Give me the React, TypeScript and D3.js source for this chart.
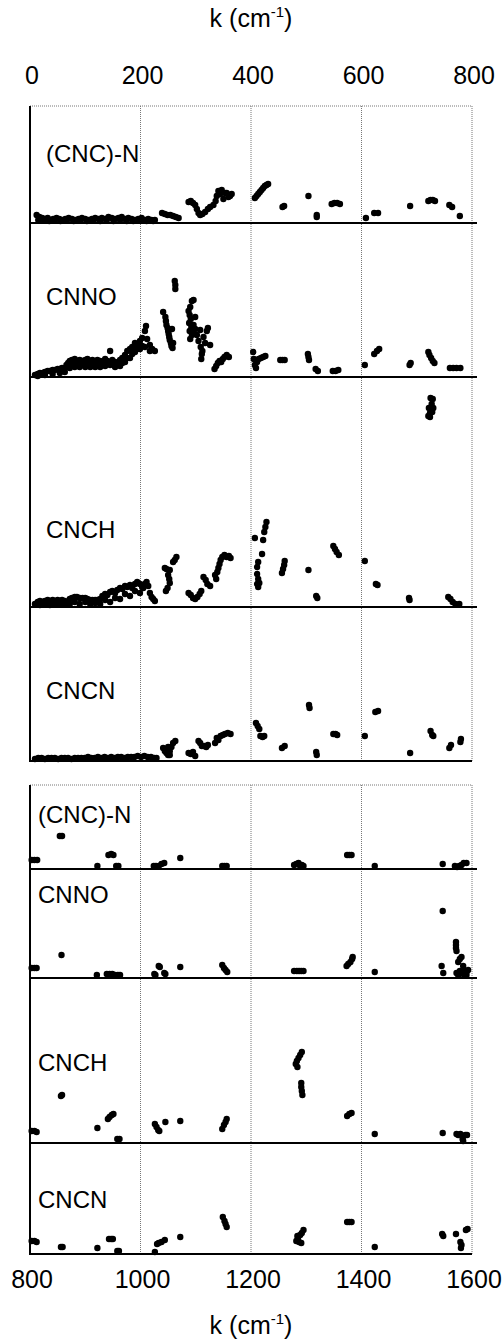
import React, { useEffect, useRef } from 'react';
import * as d3 from 'd3';

const panelNames = ['(CNC)-N', 'CNNO', 'CNCH', 'CNCN'];
const lowTicks = [0, 200, 400, 600, 800];
const highTicks = [800, 1000, 1200, 1400, 1600];

// [k (cm-1), amplitude (a.u.)], 0 - 800 cm-1
const lowCncN = [
  [12, 0.8], [17, 0.6], [22, 0.5], [27, 0.4], [32, 0.5], [37, 0.3], [42, 0.4], [48, 0.5], [53, 0.4], [58, 0.3],
  [64, 0.4], [70, 0.5], [76, 0.4], [82, 0.3], [88, 0.4], [94, 0.5], [100, 0.4], [106, 0.3], [112, 0.4], [118, 0.5],
  [124, 0.4], [130, 0.5], [136, 0.4], [142, 0.6], [148, 0.5], [154, 0.4], [160, 0.5], [166, 0.6], [172, 0.4], [178, 0.5],
  [184, 0.4], [190, 0.3], [196, 0.4], [202, 0.5], [208, 0.3], [214, 0.4], [220, 0.3], [226, 0.3],
  [15, 0.3], [25, 0.3], [35, 0.2], [45, 0.3], [55, 0.2], [67, 0.3], [79, 0.2], [91, 0.3], [103, 0.2], [115, 0.3],
  [127, 0.2], [139, 0.3], [151, 0.2], [163, 0.3], [175, 0.2], [187, 0.2], [199, 0.3], [211, 0.2], [223, 0.2],
  [239, 1.0], [244, 0.9], [249, 0.8], [254, 0.8], [259, 0.7], [264, 0.6], [269, 0.5],
  [287, 2.1], [291, 2.2], [295, 2.0], [299, 1.8], [302, 1.4], [305, 1.0], [308, 0.8], [312, 0.9], [317, 1.1], [322, 1.4], [326, 1.6],
  [332, 1.8], [336, 2.2], [338, 2.7], [341, 3.2], [344, 2.9], [347, 3.3], [350, 2.4], [353, 3.0], [356, 3.0], [359, 2.6], [362, 2.7], [365, 2.9],
  [407, 2.5], [410, 2.7], [413, 2.9], [416, 3.1], [419, 3.3], [422, 3.5], [425, 3.7], [428, 3.8], [431, 3.9],
  [457, 1.6], [460, 1.7], [504, 2.7], [519, 0.6], [519, 0.8],
  [546, 1.9], [551, 2.0], [556, 2.0], [561, 1.9], [608, 0.5], [623, 1.0], [630, 1.0], [688, 1.7],
  [721, 2.2], [725, 2.3], [729, 2.3], [733, 2.2], [759, 1.8], [764, 1.6], [778, 0.7],
];

const lowCnno = [
  [9, 0.2], [14, 0.3], [18, 0.4], [23, 0.4], [27, 0.5], [32, 0.6], [36, 0.6], [41, 0.7], [45, 0.7], [50, 0.8],
  [54, 0.8], [58, 0.9], [63, 0.9], [66, 1.2], [69, 1.4], [72, 1.6], [76, 1.7], [81, 1.8], [85, 1.6], [90, 1.7],
  [95, 1.6], [100, 1.7], [104, 1.8], [109, 1.6], [113, 1.7], [118, 1.5], [122, 1.7], [127, 1.6], [131, 1.5], [136, 1.8],
  [140, 1.6], [145, 2.6], [149, 1.7], [154, 1.5], [158, 1.2], [163, 1.7], [167, 1.9], [172, 2.2], [176, 2.6], [181, 2.8],
  [185, 3.0], [190, 3.4], [194, 3.2], [199, 3.6], [203, 3.9], [208, 4.6], [210, 5.1], [212, 3.8], [217, 3.2], [221, 2.8], [226, 2.6],
  [14, 0.1], [27, 0.2], [41, 0.3], [54, 0.4], [63, 0.5],
  [72, 0.9], [81, 1.0], [90, 1.0], [100, 1.0], [109, 1.0], [118, 1.0], [127, 1.0], [136, 1.1], [145, 1.2], [154, 1.0],
  [163, 1.1], [172, 1.5], [181, 1.9], [190, 2.5], [199, 2.8], [208, 3.0], [217, 2.6],
  [76, 1.3], [86, 1.3], [95, 1.3], [104, 1.3], [113, 1.3], [122, 1.3], [131, 1.2], [140, 1.3], [149, 1.4], [158, 1.4],
  [167, 1.4], [176, 1.9], [185, 2.3], [194, 2.8], [203, 3.1],
  [241, 6.5], [245, 6.0], [246, 5.6], [247, 5.2], [249, 4.9], [250, 4.6], [251, 4.3], [252, 4.0], [253, 3.7], [255, 3.4],
  [256, 3.1], [258, 2.9], [259, 3.4], [257, 4.8], [262, 9.6], [263, 9.2], [263, 8.8],
  [293, 7.6], [296, 7.7], [290, 7.0], [287, 6.6], [289, 6.2], [291, 5.8], [288, 5.4], [292, 5.0], [289, 4.6], [293, 4.2],
  [290, 3.8], [295, 4.4], [296, 5.2], [299, 6.0], [299, 4.8], [302, 4.2], [305, 3.6], [308, 4.7], [309, 3.0], [311, 2.3],
  [310, 1.8], [312, 2.6], [314, 4.0], [317, 3.4], [320, 4.6], [322, 4.9], [326, 3.2],
  [334, 0.8], [337, 1.1], [340, 1.4], [343, 1.6], [346, 1.5], [349, 1.8], [352, 2.0], [356, 2.2], [360, 2.0],
  [404, 2.5], [405, 1.8], [407, 1.2], [409, 0.9], [411, 1.5], [414, 1.8], [418, 1.9], [422, 2.0], [426, 2.1],
  [453, 1.7], [457, 1.7], [461, 1.7], [503, 2.3], [504, 2.0], [505, 1.7], [517, 0.8], [521, 0.6],
  [548, 0.6], [553, 0.6], [558, 0.7], [606, 1.2], [623, 2.3], [628, 2.6], [632, 2.8], [687, 1.2], [689, 1.4],
  [721, 2.5], [723, 2.2], [726, 1.9], [729, 1.6], [732, 1.4], [760, 0.9], [766, 0.9], [772, 0.9], [779, 0.9],
];

const lowCnch = [
  [9, 0.3], [14, 0.5], [18, 0.6], [23, 0.5], [27, 0.6], [32, 0.7], [36, 0.6], [41, 0.7], [45, 0.6], [50, 0.7],
  [54, 0.6], [58, 0.7], [63, 0.6], [68, 0.5], [72, 0.8], [76, 0.9], [81, 1.0], [85, 1.0], [90, 0.9], [95, 0.9],
  [100, 0.9], [104, 0.8], [109, 0.7], [113, 0.7], [118, 0.7], [122, 0.7], [127, 0.8], [131, 1.1], [136, 1.3], [140, 1.2],
  [145, 1.5], [149, 1.6], [154, 1.4], [158, 1.7], [163, 1.9], [167, 1.8], [172, 2.1], [176, 2.0], [181, 2.2], [185, 1.9],
  [190, 2.3], [194, 2.5], [199, 2.3], [203, 2.0],
  [18, 0.2], [36, 0.2], [54, 0.3], [72, 0.3], [90, 0.3], [109, 0.3], [127, 0.3], [145, 0.5], [163, 0.8], [181, 1.1], [199, 1.4],
  [27, 0.3], [45, 0.3], [63, 0.3], [81, 0.5], [100, 0.5], [118, 0.4], [136, 0.7], [154, 0.9], [172, 1.3], [190, 1.6],
  [205, 1.9], [208, 2.3], [211, 2.5], [214, 2.1], [217, 1.4], [220, 1.0], [223, 0.8], [226, 0.6],
  [265, 5.0], [262, 4.7], [259, 4.5], [244, 3.9], [247, 3.8], [253, 3.7], [250, 3.2], [252, 2.8], [253, 2.4], [249, 1.9], [246, 1.6],
  [287, 1.4], [291, 1.2], [295, 0.9], [299, 0.8], [303, 1.0], [307, 1.3], [310, 1.6],
  [314, 3.0], [318, 2.7], [321, 2.3], [326, 2.1],
  [335, 3.2], [337, 2.8], [339, 3.5], [341, 3.9], [343, 4.3], [345, 4.7], [348, 5.0], [352, 5.2], [356, 5.0], [360, 5.1], [363, 4.9],
  [428, 8.5], [426, 8.0], [424, 7.5], [407, 6.9], [422, 6.7], [420, 5.3], [413, 4.5], [411, 4.0], [411, 3.3], [413, 2.8],
  [411, 2.3], [413, 2.0], [415, 2.4],
  [461, 4.6], [460, 4.2], [458, 3.8], [456, 3.4], [504, 3.7], [518, 1.1], [520, 0.9],
  [549, 6.1], [552, 5.8], [555, 5.5], [559, 5.2], [606, 4.6], [626, 2.3], [629, 2.2], [686, 0.9], [687, 0.7],
  [725, 20.9], [729, 20.8], [727, 20.3], [722, 19.9], [730, 19.9], [724, 19.4], [728, 19.5], [721, 19.1], [724, 19.0],
  [757, 1.0], [761, 0.8], [765, 0.5], [770, 0.3], [777, 0.3],
];

const lowCncn = [
  [9, 0.2], [15, 0.3], [21, 0.3], [27, 0.2], [33, 0.3], [39, 0.3], [45, 0.3], [51, 0.2], [57, 0.3], [63, 0.3],
  [69, 0.3], [75, 0.2], [81, 0.3], [87, 0.3], [93, 0.3], [99, 0.3], [105, 0.4], [111, 0.3], [117, 0.3], [123, 0.4],
  [129, 0.3], [135, 0.4], [141, 0.3], [147, 0.4], [153, 0.3], [159, 0.4], [165, 0.4], [171, 0.3], [177, 0.4], [183, 0.4],
  [189, 0.4], [195, 0.5], [201, 0.4], [207, 0.5], [213, 0.4], [219, 0.4], [225, 0.3], [229, 0.3],
  [241, 1.3], [244, 1.0], [247, 0.8], [250, 0.6], [253, 1.0], [256, 1.4], [259, 1.8], [263, 2.0], [250, 1.4], [253, 0.6],
  [287, 0.8], [291, 0.7], [295, 0.9], [299, 0.5],
  [305, 2.0], [308, 1.8], [311, 1.5], [315, 1.5], [319, 1.4], [322, 1.6],
  [335, 1.8], [338, 2.3], [341, 2.1], [345, 2.5], [349, 2.6], [353, 2.7], [358, 2.8], [363, 2.7],
  [409, 3.8], [412, 3.5], [415, 3.2], [417, 2.5], [421, 2.4], [424, 2.5],
  [456, 1.3], [461, 1.5], [505, 5.6], [506, 5.3], [518, 0.9], [519, 0.6],
  [549, 2.7], [553, 2.7], [556, 2.6], [606, 2.5], [625, 4.9], [630, 5.0], [688, 0.8],
  [725, 3.0], [728, 2.6], [730, 2.5], [759, 1.3], [762, 1.6], [779, 1.9], [780, 2.2],
];

// 800 - 1600 cm-1
const highCncN = [
  [803, 0.9], [808, 0.9], [813, 0.9], [854, 3.3], [858, 3.3], [922, 0.3], [942, 1.4], [947, 1.5], [951, 1.4],
  [956, 0.3], [960, 0.3], [1024, 0.3], [1028, 0.3], [1033, 0.3], [1038, 0.5], [1043, 0.6], [1072, 1.1],
  [1148, 0.3], [1152, 0.3], [1156, 0.3], [1278, 0.4], [1282, 0.5], [1286, 0.6], [1289, 0.3], [1292, 0.4], [1295, 0.3],
  [1374, 1.4], [1378, 1.4], [1382, 1.4], [1424, 0.3], [1547, 0.5],
  [1569, 0.3], [1573, 0.2], [1577, 0.3], [1581, 0.4], [1585, 0.6], [1590, 0.6],
];

const highCnno = [
  [803, 1.0], [808, 1.0], [812, 1.0], [857, 2.3], [921, 0.3],
  [939, 0.4], [944, 0.4], [949, 0.4], [954, 0.3], [959, 0.3], [963, 0.3],
  [1025, 0.4], [1027, 0.3], [1033, 1.2], [1035, 1.1], [1043, 0.5], [1045, 0.4], [1072, 1.1],
  [1148, 1.3], [1151, 1.0], [1154, 0.8], [1157, 0.6],
  [1278, 0.7], [1283, 0.7], [1287, 0.7], [1291, 0.7], [1295, 0.7],
  [1373, 1.2], [1376, 1.4], [1380, 1.6], [1383, 1.9], [1384, 2.1], [1424, 0.6],
  [1545, 1.2], [1548, 0.5], [1547, 6.7], [1571, 3.6], [1571, 3.3], [1571, 3.0], [1572, 2.7],
  [1581, 2.1], [1578, 1.9], [1575, 1.6], [1584, 1.2], [1578, 0.7], [1572, 0.5], [1587, 0.7], [1593, 0.8],
  [1590, 0.3], [1575, 0.3], [1584, 0.4], [1590, 0.6],
];

const highCnch = [
  [803, 1.2], [808, 1.2], [812, 1.1], [856, 4.7], [858, 4.8], [922, 1.5],
  [941, 2.4], [944, 2.6], [948, 2.8], [951, 2.9], [958, 0.4], [962, 0.4],
  [1026, 1.9], [1029, 1.6], [1032, 1.3], [1034, 1.2], [1045, 2.1], [1072, 2.2],
  [1148, 1.4], [1151, 1.8], [1154, 2.1], [1156, 2.4],
  [1292, 9.1], [1289, 8.8], [1286, 8.5], [1283, 8.2], [1281, 7.9], [1284, 7.6],
  [1291, 6.0], [1291, 5.6], [1292, 5.2], [1293, 4.8],
  [1374, 2.7], [1378, 2.9], [1382, 3.0], [1424, 0.9], [1547, 1.0],
  [1572, 0.9], [1575, 0.8], [1579, 0.9], [1584, 0.7], [1588, 0.8], [1591, 0.8], [1583, 0.4], [1584, 0.2],
];

const highCncn = [
  [803, 1.3], [808, 1.3], [812, 1.2], [856, 0.7], [859, 0.7], [922, 0.6],
  [943, 1.5], [947, 1.5], [950, 1.5], [958, 0.3], [961, 0.3],
  [1030, 1.0], [1033, 1.1], [1038, 1.2], [1044, 1.4], [1026, 0.2], [1072, 1.7],
  [1149, 3.7], [1152, 3.3], [1154, 3.0], [1156, 2.7],
  [1295, 2.4], [1292, 2.1], [1289, 1.9], [1285, 1.6], [1282, 1.3], [1287, 1.2], [1291, 1.1], [1284, 1.8],
  [1374, 3.2], [1378, 3.2], [1382, 3.2], [1424, 0.7], [1546, 2.0], [1548, 1.8],
  [1571, 2.0], [1589, 2.4], [1592, 2.5], [1579, 1.2], [1581, 0.9], [1580, 0.6],
];

const lowSeries = [lowCncN, lowCnno, lowCnch, lowCncn];
const highSeries = [highCncN, highCnno, highCnch, highCncn];

const W = 502;
const H = 1341;
const FONT = '"Liberation Sans", Arial, Helvetica, sans-serif';

const App = () => {
  const svgRef = useRef(null);

  useEffect(() => {
    const svg = d3.select(svgRef.current);
    svg.selectAll('*').remove();

    const left = 30;
    const right = 472;
    const pxPerUnit = 10;

    const groups = [
      {
        ticks: lowTicks,
        series: lowSeries,
        top: 106,
        baselines: [223, 377, 607, 761],
        labelX: 46,
        labelY: [162, 305, 538, 699],
        tickY: 84,
        titleY: 27,
      },
      {
        ticks: highTicks,
        series: highSeries,
        top: 785,
        baselines: [869, 978, 1143, 1254],
        labelX: 38,
        labelY: [823, 903, 1071, 1208],
        tickY: 1288,
        titleY: 1334,
      },
    ];

    groups.forEach((grp) => {
      const x = d3.scaleLinear()
        .domain(d3.extent(grp.ticks))
        .range([left, right]);
      const bottom = grp.baselines[grp.baselines.length - 1];
      const g = svg.append('g');

      // dotted grid + frame
      g.selectAll('.grid')
        .data(grp.ticks.slice(1))
        .enter()
        .append('line')
        .attr('x1', d => x(d)).attr('x2', d => x(d))
        .attr('y1', grp.top).attr('y2', bottom)
        .attr('stroke', '#777')
        .attr('stroke-width', 1)
        .attr('stroke-dasharray', '1,1');

      g.append('line')
        .attr('x1', left).attr('x2', right)
        .attr('y1', grp.top).attr('y2', grp.top)
        .attr('stroke', '#777')
        .attr('stroke-width', 1)
        .attr('stroke-dasharray', '1,1');

      g.append('line')
        .attr('x1', left).attr('x2', left)
        .attr('y1', grp.top).attr('y2', bottom + 1)
        .attr('stroke', '#000')
        .attr('stroke-width', 2);

      grp.series.forEach((pts, i) => {
        const base = grp.baselines[i];
        const ptop = i === 0 ? grp.top : grp.baselines[i - 1];
        const y = d3.scaleLinear()
          .domain([0, (base - ptop) / pxPerUnit])
          .range([base, ptop]);
        const last = i === grp.series.length - 1;

        g.append('line')
          .attr('x1', left - 1).attr('x2', last ? right : right + 5)
          .attr('y1', base).attr('y2', base)
          .attr('stroke', '#000')
          .attr('stroke-width', 2);

        g.selectAll(null)
          .data(pts)
          .enter()
          .append('circle')
          .attr('cx', d => x(d[0]))
          .attr('cy', d => y(d[1]))
          .attr('r', 3.2)
          .attr('fill', '#000');

        g.append('text')
          .attr('x', grp.labelX)
          .attr('y', grp.labelY[i])
          .attr('font-family', FONT)
          .attr('font-size', 24)
          .attr('fill', '#000')
          .text(panelNames[i]);
      });

      g.selectAll('.tick')
        .data(grp.ticks)
        .enter()
        .append('text')
        .attr('x', d => x(d) + 2)
        .attr('y', grp.tickY)
        .attr('text-anchor', 'middle')
        .attr('font-family', FONT)
        .attr('font-size', 25)
        .attr('fill', '#000')
        .text(d => d);

      const title = g.append('text')
        .attr('x', (left + right) / 2)
        .attr('y', grp.titleY)
        .attr('text-anchor', 'middle')
        .attr('font-family', FONT)
        .attr('font-size', 25)
        .attr('fill', '#000');
      title.append('tspan').text('k (cm');
      title.append('tspan').attr('dy', -10).attr('font-size', 15).text('-1');
      title.append('tspan').attr('dy', 10).text(')');
    });
  }, []);

  return (
    <svg
      ref={svgRef}
      width={W}
      height={H}
      style={{ position: 'absolute', left: 0, top: 0, background: '#fff' }}
    />
  );
};

export default App;
